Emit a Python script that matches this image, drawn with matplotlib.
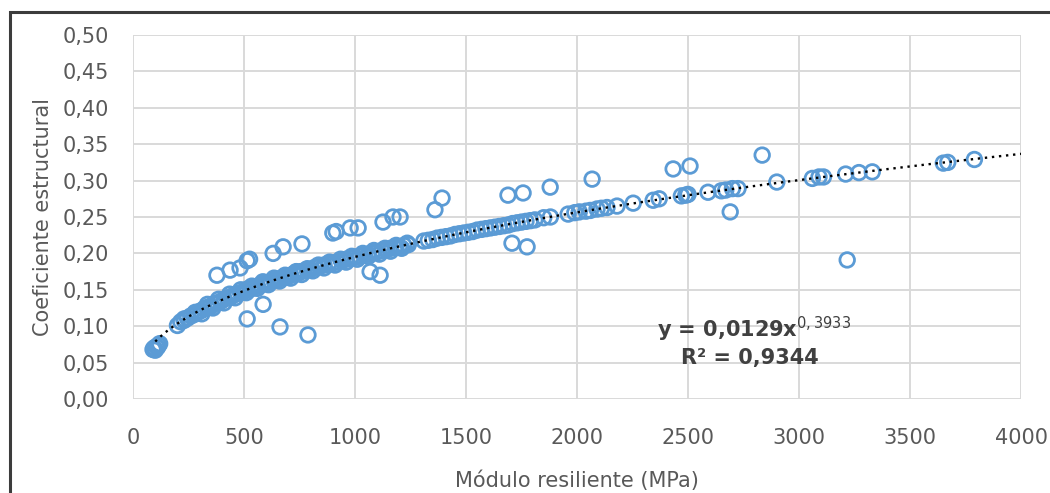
import matplotlib
matplotlib.use("Agg")
import matplotlib.pyplot as plt
from matplotlib.patches import Rectangle
from matplotlib.ticker import FuncFormatter, MultipleLocator
import numpy as np

# main band of points (Módulo resiliente in MPa, coeficiente estructural)
band_x = [90, 95, 100, 105, 110, 115, 120,
          200, 215, 230, 245, 260, 275, 290, 305, 320, 335, 350, 365, 380, 395,
          410, 425, 440, 455, 470, 485, 500, 515, 530, 545, 560, 575, 590, 605,
          620, 635, 650, 665, 680, 695, 710, 725, 740, 755, 770, 785, 800, 820,
          840, 860, 880, 900, 920, 940, 960, 980, 1000, 1020, 1040, 1060, 1080,
          1100, 1120, 1140, 1160, 1180, 1200, 1220, 1240,
          310, 360, 410, 460, 510, 560, 610, 660, 710, 760, 810, 860, 910, 960,
          1010, 1060, 1110, 1160, 1210,
          230, 280, 335, 385, 435, 485, 535, 585, 635, 685, 735, 785, 835, 885,
          935, 985, 1035, 1085, 1135, 1185, 1235,
          1310, 1330, 1350, 1370, 1390, 1410, 1430, 1450, 1470, 1490, 1510, 1530,
          1550, 1570, 1590, 1610, 1630, 1650, 1670, 1690, 1710, 1730, 1750, 1770,
          1790, 1810, 1850, 1880, 1960, 1990, 2010, 2040, 2060, 2090, 2110, 2135,
          2180, 2253, 2343, 2370, 2470, 2490, 2500, 2590, 2650, 2670, 2700, 2725,
          2900, 3060, 3090, 3110, 3210, 3270, 3330, 3650, 3670, 3790]
band_y = [0.068, 0.070, 0.067, 0.072, 0.071, 0.074, 0.076,
          0.101, 0.106, 0.108, 0.111, 0.114, 0.116, 0.119, 0.121, 0.124, 0.126,
          0.127, 0.131, 0.132, 0.134, 0.137, 0.139, 0.140, 0.143, 0.145, 0.146,
          0.148, 0.151, 0.151, 0.154, 0.155, 0.157, 0.158, 0.160, 0.161, 0.163,
          0.164, 0.166, 0.167, 0.168, 0.170, 0.172, 0.172, 0.175, 0.176, 0.177,
          0.178, 0.181, 0.182, 0.184, 0.185, 0.187, 0.188, 0.190, 0.192, 0.193,
          0.195, 0.196, 0.198, 0.199, 0.201, 0.202, 0.204, 0.205, 0.207, 0.208,
          0.209, 0.211, 0.212,
          0.117, 0.125, 0.132, 0.139, 0.146, 0.152, 0.157, 0.162, 0.166, 0.171,
          0.176, 0.180, 0.184, 0.188, 0.192, 0.196, 0.199, 0.203, 0.207,
          0.110, 0.119, 0.130, 0.137, 0.144, 0.150, 0.155, 0.161, 0.166, 0.170,
          0.175, 0.179, 0.184, 0.188, 0.192, 0.196, 0.200, 0.204, 0.207, 0.211,
          0.214,
          0.217, 0.218, 0.219, 0.221, 0.222, 0.223, 0.224, 0.226, 0.227, 0.228,
          0.229, 0.230, 0.232, 0.233, 0.234, 0.235, 0.236, 0.237, 0.238, 0.239,
          0.241, 0.242, 0.243, 0.244, 0.245, 0.246, 0.249, 0.250, 0.254, 0.256,
          0.257, 0.258, 0.259, 0.261, 0.262, 0.263, 0.265, 0.269, 0.273, 0.275,
          0.279, 0.280, 0.281, 0.284, 0.286, 0.287, 0.289, 0.289, 0.298, 0.303,
          0.305, 0.305, 0.309, 0.311, 0.312, 0.324, 0.325, 0.329]

# scattered points away from the band
out_x = [378, 437, 482, 514, 525, 631, 676, 761, 900, 915, 978, 1014, 1126,
         1171, 1203, 1360, 1392, 1689, 1757, 1879, 2068, 2433, 2509, 2834,
         514, 586, 662, 788, 1068, 1113, 1707, 1775, 2690, 3217]
out_y = [0.170, 0.177, 0.180, 0.190, 0.192, 0.200, 0.209, 0.213, 0.228, 0.230,
         0.235, 0.235, 0.243, 0.250, 0.250, 0.260, 0.276, 0.280, 0.283, 0.291,
         0.302, 0.316, 0.320, 0.335,
         0.110, 0.130, 0.099, 0.088, 0.175, 0.170, 0.214, 0.209, 0.257, 0.191]

# power trend line shown on the chart
coef_a = 0.0129
coef_b = 0.3933
r2_text = "R² = 0,9344"

blue = "#5B9BD5"
grey_txt = "#595959"

fig = plt.figure(figsize=(10.5, 4.93), dpi=100)
ax = fig.add_axes([0.1267, 0.1907, 0.8457, 0.7383])

ax.scatter(band_x + out_x, band_y + out_y, s=110, facecolors="none",
           edgecolors=blue, linewidths=2.0, zorder=3)

tx = np.linspace(100, 4000, 400)
ax.plot(tx, coef_a * tx ** coef_b, color="black", lw=1.7,
        linestyle=(0, (1, 2)), zorder=4)

ax.set_xlim(0, 4000)
ax.set_ylim(0, 0.5)
ax.xaxis.set_major_locator(MultipleLocator(500))
ax.yaxis.set_major_locator(MultipleLocator(0.05))
ax.yaxis.set_major_formatter(FuncFormatter(lambda v, p: f"{v:.2f}".replace(".", ",")))
ax.grid(True, color="#D9D9D9", lw=1.4, zorder=0)
ax.set_axisbelow(True)
for s in ax.spines.values():
    s.set_visible(False)
ax.tick_params(length=0, labelsize=15, colors=grey_txt)
ax.tick_params(axis="y", pad=17)
ax.tick_params(axis="x", pad=21)
for lbl in ax.get_xticklabels() + ax.get_yticklabels():
    lbl.set_family("DejaVu Sans")

ax.set_xlabel("Módulo resiliente (MPa)", fontsize=15, color=grey_txt,
              family="DejaVu Sans", labelpad=16)
ax.set_ylabel("Coeficiente estructural", fontsize=15, color=grey_txt,
              family="DejaVu Sans", labelpad=7)

eq = "y = 0,0129x$^{0,3933}$"
ax.text(3235, 0.095, eq, ha="right", va="center", fontsize=15, color="#404040",
        fontweight="bold", family="DejaVu Sans")
ax.text(3090, 0.056, r2_text, ha="right", va="center", fontsize=15,
        color="#404040", fontweight="bold", family="DejaVu Sans")

fig.patches.append(Rectangle((10 / 1050, -0.05), 1.1, 1.05 - 12 / 493,
                             transform=fig.transFigure, fill=False,
                             edgecolor="#3C3C3C", lw=2.2))

fig.savefig("out.png", dpi=100)
